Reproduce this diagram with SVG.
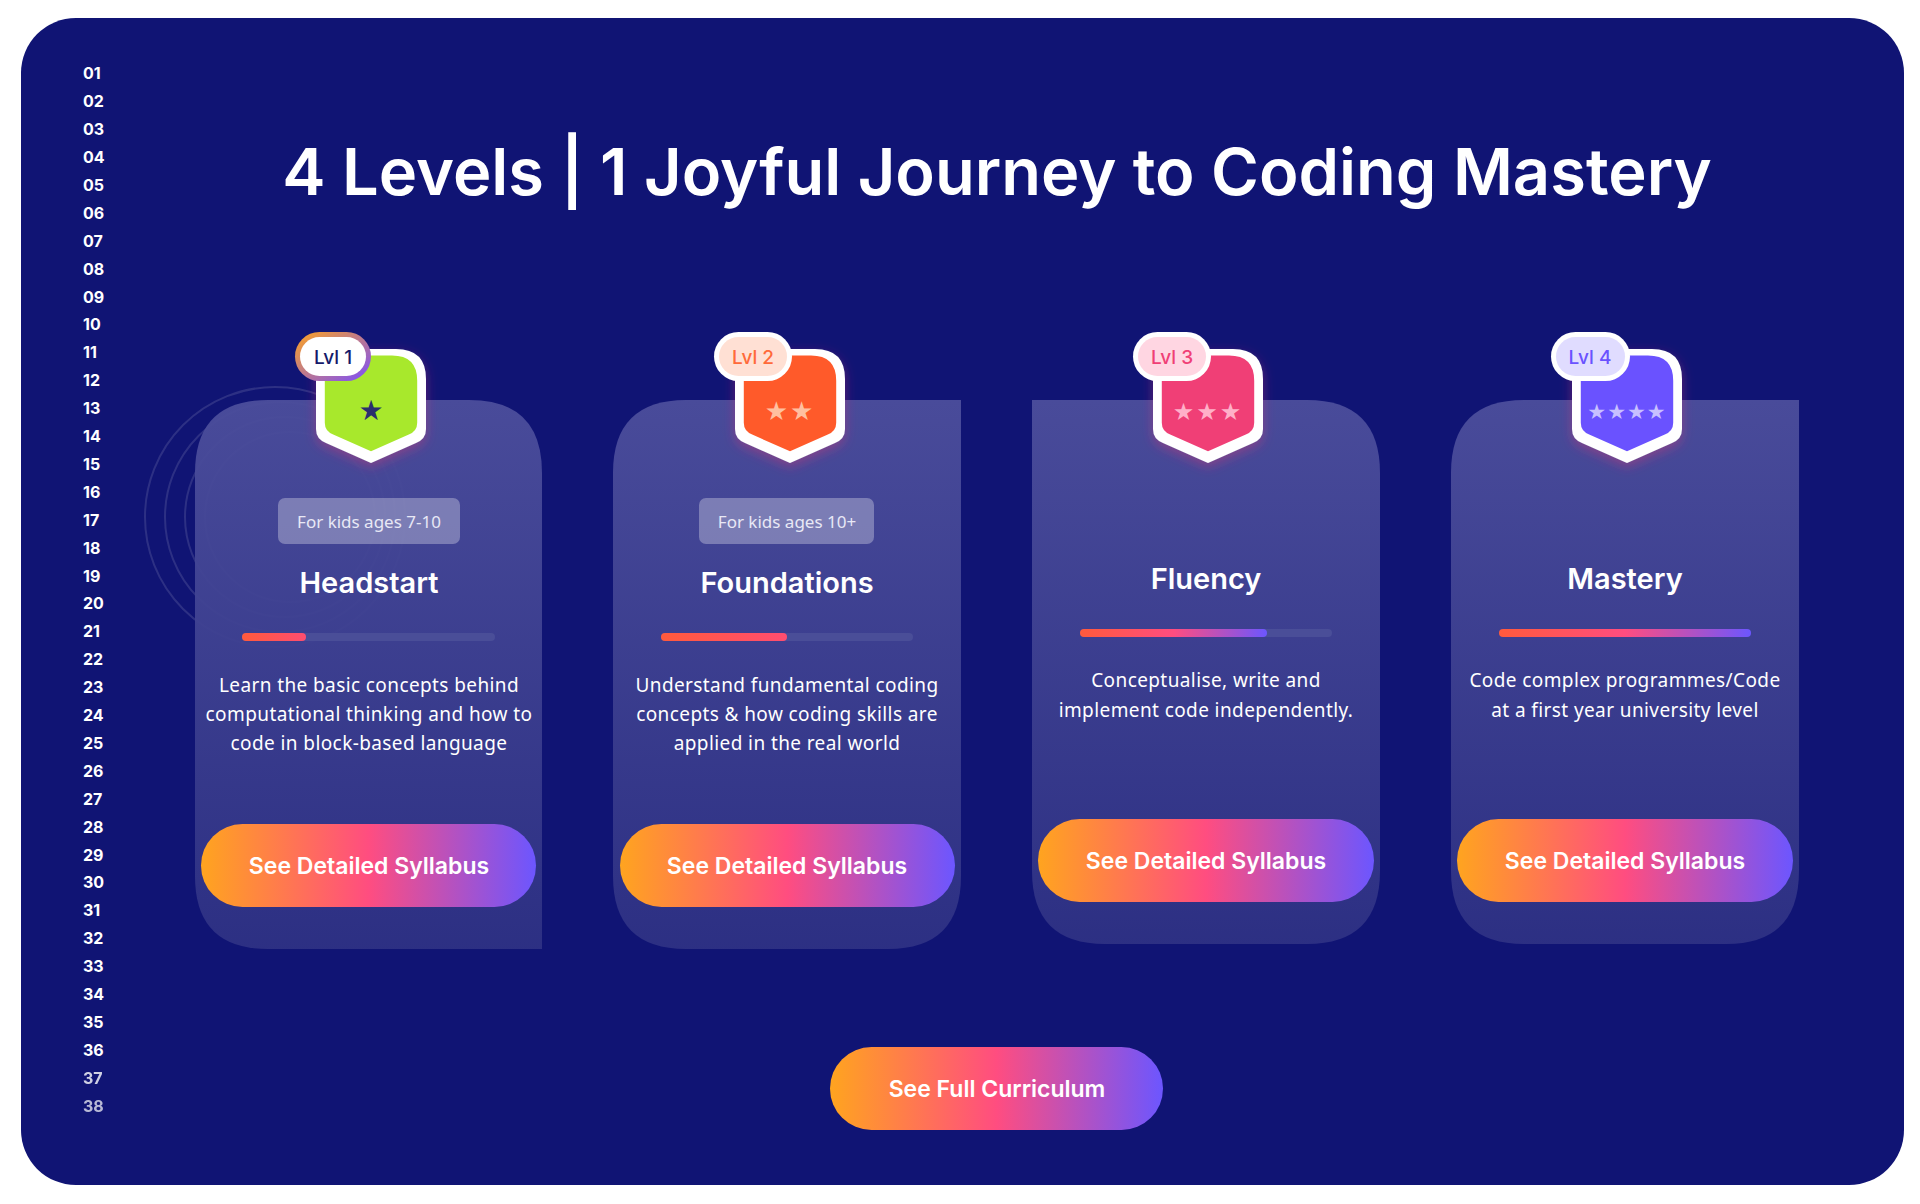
<svg xmlns="http://www.w3.org/2000/svg" width="1920" height="1204" viewBox="0 0 1920 1204">
<defs>
<linearGradient id="card" x1="0" y1="0" x2="0" y2="1"><stop offset="0" stop-color="#4c4e9c"/><stop offset="1" stop-color="#2e3184"/></linearGradient>
<linearGradient id="btn" x1="0" y1="0" x2="1" y2="0"><stop offset="0" stop-color="#ffa41f"/><stop offset="0.5" stop-color="#ff4d80"/><stop offset="1" stop-color="#6c56ff"/></linearGradient>
<linearGradient id="bar" x1="0" y1="0" x2="1" y2="0"><stop offset="0" stop-color="#ff5a3c"/><stop offset="0.5" stop-color="#ff4d80"/><stop offset="1" stop-color="#6c56ff"/></linearGradient>
<linearGradient id="bar1" x1="0" y1="0" x2="1" y2="0"><stop offset="0" stop-color="#ff5a3c"/><stop offset="1" stop-color="#ff4d70"/></linearGradient>
<linearGradient id="ring" x1="0" y1="0" x2="1" y2="1"><stop offset="0" stop-color="#ffa41f"/><stop offset="1" stop-color="#7a4dff"/></linearGradient>
<filter id="sh" x="-30%" y="-30%" width="160%" height="160%"><feDropShadow dx="0" dy="4" stdDeviation="6" flood-color="#ff3070" flood-opacity="0.35"/></filter>
<path id="shield" d="M-55,-40 Q-55,-62 -33,-62 L25,-62 Q55,-62 55,-32 L55,18 Q55,28 45,32 L0,52 L-45,32 Q-55,28 -55,18 Z"/>
</defs>
<style>
.ln{font-family:Inter,"Liberation Sans",sans-serif;font-size:16px;font-weight:700;fill:#ffffff}
.ttl{font-family:Inter,"Liberation Sans",sans-serif;font-weight:600;fill:#ffffff;text-anchor:middle}
.star{font-family:"DejaVu Sans",sans-serif;text-anchor:middle}
.desc{font-family:"Noto Sans","Liberation Sans",sans-serif;font-size:19px;fill:#ffffff;text-anchor:middle;letter-spacing:0.4px}
.btxt{font-family:Inter,"Liberation Sans",sans-serif;font-size:23px;font-weight:600;fill:#ffffff;text-anchor:middle}
.lvl{font-family:Inter,"Liberation Sans",sans-serif;font-size:19px;font-weight:500;text-anchor:middle}
.age{font-family:"Noto Sans","Liberation Sans",sans-serif;font-size:17px;fill:#e8e8f5;text-anchor:middle}
.track{fill:#4a4e98}
</style>
<rect x="0" y="0" width="1920" height="1204" fill="#ffffff"/>
<rect x="21" y="18" width="1883" height="1167" rx="55" fill="#101474"/>
<g id="linenumbers">
<text class="ln" x="83" y="79">01</text><text class="ln" x="83" y="107">02</text><text class="ln" x="83" y="135">03</text><text class="ln" x="83" y="163">04</text><text class="ln" x="83" y="191">05</text><text class="ln" x="83" y="219">06</text><text class="ln" x="83" y="247">07</text><text class="ln" x="83" y="275">08</text><text class="ln" x="83" y="303">09</text><text class="ln" x="83" y="330">10</text><text class="ln" x="83" y="358">11</text><text class="ln" x="83" y="386">12</text><text class="ln" x="83" y="414">13</text><text class="ln" x="83" y="442">14</text><text class="ln" x="83" y="470">15</text><text class="ln" x="83" y="498">16</text><text class="ln" x="83" y="526">17</text><text class="ln" x="83" y="554">18</text><text class="ln" x="83" y="582">19</text><text class="ln" x="83" y="609">20</text><text class="ln" x="83" y="637">21</text><text class="ln" x="83" y="665">22</text><text class="ln" x="83" y="693">23</text><text class="ln" x="83" y="721">24</text><text class="ln" x="83" y="749">25</text><text class="ln" x="83" y="777">26</text><text class="ln" x="83" y="805">27</text><text class="ln" x="83" y="833">28</text><text class="ln" x="83" y="861">29</text><text class="ln" x="83" y="888">30</text><text class="ln" x="83" y="916">31</text><text class="ln" x="83" y="944">32</text><text class="ln" x="83" y="972">33</text><text class="ln" x="83" y="1000">34</text><text class="ln" x="83" y="1028">35</text><text class="ln" x="83" y="1056">36</text><text class="ln" x="83" y="1084" opacity="0.8">37</text><text class="ln" x="83" y="1112" opacity="0.7">38</text>
</g>
<text class="ttl" x="997" y="195" font-size="65">4 Levels | 1 Joyful Journey to Coding Mastery</text>
<g id="rings" fill="none" stroke="#ffffff" stroke-opacity="0.12" stroke-width="2">
<circle cx="275" cy="517" r="130"/><circle cx="280" cy="517" r="115"/><circle cx="285" cy="517" r="100"/><circle cx="290" cy="517" r="85"/>
</g>
<g id="card1">
<path d="M268,400 L469,400 Q542,400 542,473 L542,949 L268,949 Q195,949 195,876 L195,473 Q195,400 268,400 Z" fill="url(#card)" opacity="0.95"/>
<g transform="translate(371,411)"><use href="#shield" fill="#ffffff" filter="url(#sh)"/><use href="#shield" transform="scale(0.84) translate(0,-4)" fill="#a8e82c"/><text class="star" y="9" font-size="28" style="fill:#2a2f6e">★</text></g>
<rect x="295" y="332" width="76" height="49" rx="24.5" fill="url(#ring)"/><rect x="300" y="337" width="66" height="39" rx="19.5" fill="#ffffff"/>
<text class="lvl" x="333" y="364" fill="#151a6a" font-weight="700">Lvl 1</text>
<rect x="278" y="498" width="182" height="46" rx="7" fill="#ffffff" fill-opacity="0.3"/><text class="age" x="369" y="528">For kids ages 7-10</text>
<text class="ttl" x="369" y="593" font-size="29">Headstart</text>
<rect class="track" x="242" y="633" width="253" height="8" rx="4"/><rect x="242" y="633" width="64" height="8" rx="4" fill="url(#bar1)"/>
<text class="desc" x="369" y="692">Learn the basic concepts behind</text><text class="desc" x="369" y="721">computational thinking and how to</text><text class="desc" x="369" y="750">code in block-based language</text>
<rect x="201" y="824" width="335" height="83" rx="41.5" fill="url(#btn)"/><text class="btxt" x="369" y="874">See Detailed Syllabus</text>
</g>
<g id="card2">
<path d="M686,400 L961,400 L961,876 Q961,949 888,949 L686,949 Q613,949 613,876 L613,473 Q613,400 686,400 Z" fill="url(#card)" opacity="0.95"/>
<g transform="translate(790,411)"><use href="#shield" fill="#ffffff" filter="url(#sh)"/><use href="#shield" transform="scale(0.84) translate(0,-4)" fill="#ff5a2a"/><text class="star" y="9" font-size="26" letter-spacing="2" style="fill:#ffc0a0">★★</text></g>
<rect x="714" y="332" width="78" height="49" rx="24.5" fill="#ffffff"/><rect x="719" y="337" width="68" height="39" rx="19.5" fill="#ffe0d4"/>
<text class="lvl" x="753" y="364" fill="#ff6a3a">Lvl 2</text>
<rect x="699" y="498" width="175" height="46" rx="7" fill="#ffffff" fill-opacity="0.3"/><text class="age" x="787" y="528">For kids ages 10+</text>
<text class="ttl" x="787" y="593" font-size="29">Foundations</text>
<rect class="track" x="661" y="633" width="252" height="8" rx="4"/><rect x="661" y="633" width="126" height="8" rx="4" fill="url(#bar1)"/>
<text class="desc" x="787" y="692">Understand fundamental coding</text><text class="desc" x="787" y="721">concepts &amp; how coding skills are</text><text class="desc" x="787" y="750">applied in the real world</text>
<rect x="620" y="824" width="335" height="83" rx="41.5" fill="url(#btn)"/><text class="btxt" x="787" y="874">See Detailed Syllabus</text>
</g>
<g id="card3">
<path d="M1032,400 L1307,400 Q1380,400 1380,473 L1380,871 Q1380,944 1307,944 L1105,944 Q1032,944 1032,871 Z" fill="url(#card)" opacity="0.95"/>
<g transform="translate(1208,411)"><use href="#shield" fill="#ffffff" filter="url(#sh)"/><use href="#shield" transform="scale(0.84) translate(0,-4)" fill="#f03f76"/><text class="star" y="9" font-size="24" letter-spacing="2" style="fill:#ffb0c8">★★★</text></g>
<rect x="1133" y="332" width="78" height="49" rx="24.5" fill="#ffffff"/><rect x="1138" y="337" width="68" height="39" rx="19.5" fill="#ffd6e2"/>
<text class="lvl" x="1172" y="364" fill="#f03f76">Lvl 3</text>
<text class="ttl" x="1206" y="589" font-size="29">Fluency</text>
<rect class="track" x="1080" y="629" width="252" height="8" rx="4"/><rect x="1080" y="629" width="187" height="8" rx="4" fill="url(#bar)"/>
<text class="desc" x="1206" y="687">Conceptualise, write and</text><text class="desc" x="1206" y="717">implement code independently.</text>
<rect x="1038" y="819" width="336" height="83" rx="41.5" fill="url(#btn)"/><text class="btxt" x="1206" y="869">See Detailed Syllabus</text>
</g>
<g id="card4">
<path d="M1524,400 L1799,400 L1799,871 Q1799,944 1726,944 L1524,944 Q1451,944 1451,871 L1451,473 Q1451,400 1524,400 Z" fill="url(#card)" opacity="0.95"/>
<g transform="translate(1627,411)"><use href="#shield" fill="#ffffff" filter="url(#sh)"/><use href="#shield" transform="scale(0.84) translate(0,-4)" fill="#6a52ff"/><text class="star" y="8" font-size="21" letter-spacing="1" style="fill:#c8c0ff">★★★★</text></g>
<rect x="1551" y="332" width="79" height="49" rx="24.5" fill="#ffffff"/><rect x="1556" y="337" width="69" height="39" rx="19.5" fill="#e0dcff"/>
<text class="lvl" x="1590" y="364" fill="#6a52ff">Lvl 4</text>
<text class="ttl" x="1625" y="589" font-size="29">Mastery</text>
<rect x="1499" y="629" width="252" height="8" rx="4" fill="url(#bar)"/>
<text class="desc" x="1625" y="687">Code complex programmes/Code</text><text class="desc" x="1625" y="717">at a first year university level</text>
<rect x="1457" y="819" width="336" height="83" rx="41.5" fill="url(#btn)"/><text class="btxt" x="1625" y="869">See Detailed Syllabus</text>
</g>
<g id="connectors"></g>
<g id="fullcurriculum">
<rect x="830" y="1047" width="333" height="83" rx="41.5" fill="url(#btn)"/><text class="btxt" x="997" y="1097">See Full Curriculum</text>
</g>
</svg>
